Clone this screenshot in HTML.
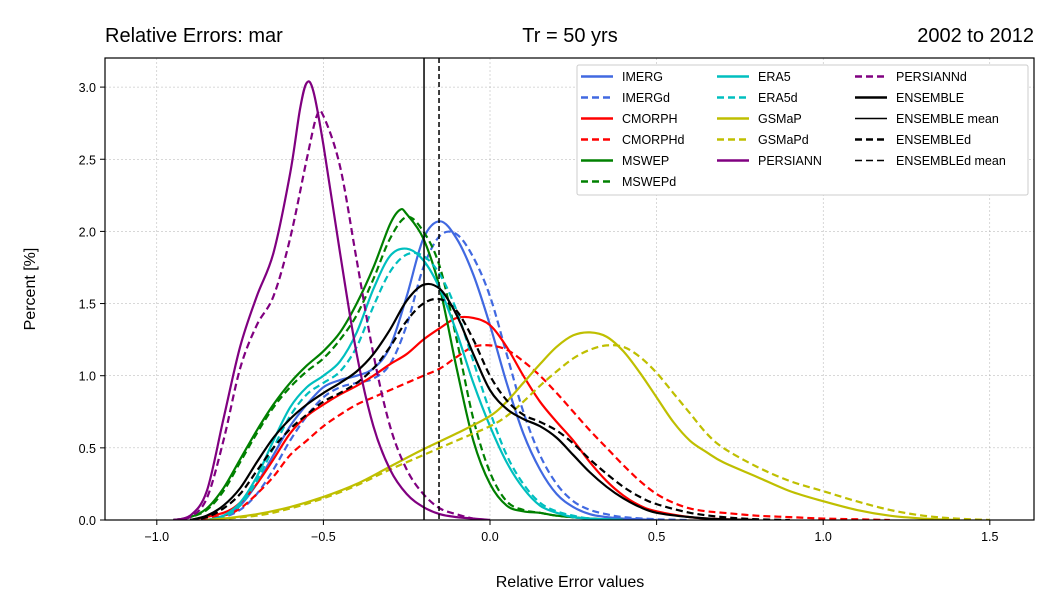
<!DOCTYPE html>
<html><head><meta charset="utf-8"><style>
body{margin:0;background:#fff;}
svg{display:block;font-family:"Liberation Sans","DejaVu Sans",sans-serif;}
</style></head><body>
<svg id="chart" width="1054" height="613"></svg>
<script>
const NS="http://www.w3.org/2000/svg";
const xTicks=[-1.0,-0.5,0.0,0.5,1.0,1.5];
const xTickLabels=["−1.0","−0.5","0.0","0.5","1.0","1.5"];
const yTicks=[0,0.5,1.0,1.5,2.0,2.5,3.0];
const yTickLabels=["0.0","0.5","1.0","1.5","2.0","2.5","3.0"];
const seriesNames=["IMERG","IMERGd","CMORPH","CMORPHd","MSWEP","MSWEPd","ERA5","ERA5d","GSMaP","GSMaPd","PERSIANN","PERSIANNd","ENSEMBLE","ENSEMBLEd"];
const seriesColors=["#4169e1","#4169e1","#ff0000","#ff0000","#008000","#008000","#00bfbf","#00bfbf","#bfbf00","#bfbf00","#800080","#800080","#000000","#000000"];
const seriesDashed=[false,true,false,true,false,true,false,true,false,true,false,true,false,true];
const imergX=[-0.85,-0.8,-0.75,-0.7,-0.65,-0.6,-0.55,-0.5,-0.45,-0.4,-0.35,-0.3,-0.25,-0.2,-0.15,-0.1,-0.05,0,0.05,0.1,0.15,0.2,0.25,0.3,0.35,0.4,0.5];
const imergY=[0,0.03,0.1,0.25,0.45,0.65,0.8,0.92,0.97,1.0,1.05,1.2,1.55,1.95,2.07,1.95,1.7,1.35,0.95,0.6,0.35,0.18,0.09,0.04,0.02,0.01,0];
const imergdX=[-0.85,-0.8,-0.75,-0.7,-0.65,-0.6,-0.55,-0.5,-0.45,-0.4,-0.35,-0.3,-0.25,-0.2,-0.15,-0.1,-0.05,0,0.05,0.1,0.15,0.2,0.25,0.3,0.35,0.4,0.5,0.6];
const imergdY=[0,0.02,0.07,0.18,0.35,0.55,0.72,0.85,0.92,0.95,0.98,1.08,1.35,1.75,1.97,1.98,1.82,1.55,1.15,0.75,0.45,0.25,0.13,0.07,0.04,0.02,0.005,0];
const cmorphX=[-0.9,-0.8,-0.75,-0.7,-0.65,-0.6,-0.55,-0.5,-0.45,-0.4,-0.35,-0.3,-0.25,-0.2,-0.15,-0.1,-0.05,0,0.05,0.1,0.15,0.2,0.25,0.3,0.35,0.4,0.45,0.5,0.6,0.7,0.8];
const cmorphY=[0,0.05,0.12,0.25,0.42,0.6,0.72,0.8,0.87,0.93,1.0,1.08,1.15,1.25,1.33,1.4,1.4,1.35,1.2,1.0,0.82,0.68,0.55,0.4,0.27,0.17,0.1,0.06,0.02,0.005,0];
const cmorphdX=[-0.9,-0.8,-0.75,-0.7,-0.65,-0.6,-0.55,-0.5,-0.45,-0.4,-0.35,-0.3,-0.25,-0.2,-0.15,-0.1,-0.05,0,0.05,0.1,0.15,0.2,0.25,0.3,0.35,0.4,0.45,0.5,0.55,0.6,0.65,0.7,0.8,0.9,1.0,1.1,1.2];
const cmorphdY=[0,0.03,0.08,0.18,0.3,0.45,0.55,0.65,0.73,0.8,0.85,0.9,0.95,1.0,1.05,1.13,1.2,1.21,1.18,1.1,1.0,0.88,0.75,0.62,0.5,0.38,0.27,0.18,0.12,0.08,0.06,0.05,0.03,0.02,0.01,0.005,0];
const mswepX=[-0.95,-0.9,-0.85,-0.8,-0.75,-0.7,-0.65,-0.6,-0.55,-0.5,-0.45,-0.4,-0.35,-0.3,-0.27,-0.25,-0.2,-0.15,-0.1,-0.05,0,0.05,0.1,0.15,0.2,0.3,0.4];
const mswepY=[0,0.02,0.08,0.22,0.42,0.62,0.8,0.95,1.07,1.17,1.3,1.5,1.75,2.05,2.15,2.12,1.95,1.6,1.05,0.55,0.25,0.1,0.06,0.05,0.03,0.01,0];
const mswepdX=[-0.95,-0.9,-0.85,-0.8,-0.75,-0.7,-0.65,-0.6,-0.55,-0.5,-0.45,-0.4,-0.35,-0.3,-0.25,-0.2,-0.15,-0.1,-0.05,0,0.05,0.1,0.15,0.2,0.3,0.4];
const mswepdY=[0,0.02,0.07,0.2,0.4,0.6,0.78,0.92,1.03,1.12,1.25,1.42,1.67,1.95,2.1,2.0,1.75,1.25,0.7,0.33,0.13,0.07,0.05,0.03,0.01,0];
const era5X=[-0.85,-0.8,-0.75,-0.7,-0.65,-0.6,-0.55,-0.5,-0.45,-0.4,-0.35,-0.3,-0.25,-0.2,-0.15,-0.1,-0.05,0,0.05,0.1,0.15,0.2,0.25,0.3,0.4];
const era5Y=[0,0.03,0.12,0.3,0.55,0.78,0.92,1.0,1.1,1.3,1.6,1.83,1.88,1.8,1.6,1.3,0.95,0.65,0.4,0.22,0.1,0.05,0.02,0.01,0];
const era5dX=[-0.85,-0.8,-0.75,-0.7,-0.65,-0.6,-0.55,-0.5,-0.45,-0.4,-0.35,-0.3,-0.25,-0.2,-0.15,-0.1,-0.05,0,0.05,0.1,0.15,0.2,0.25,0.3,0.4];
const era5dY=[0,0.02,0.1,0.27,0.5,0.72,0.87,0.95,1.03,1.2,1.48,1.72,1.84,1.83,1.7,1.45,1.1,0.75,0.45,0.25,0.12,0.06,0.03,0.01,0];
const gsmapX=[-0.85,-0.8,-0.7,-0.6,-0.5,-0.4,-0.3,-0.2,-0.1,0,0.05,0.1,0.15,0.2,0.25,0.3,0.35,0.4,0.45,0.5,0.55,0.6,0.65,0.7,0.8,0.9,1.0,1.1,1.2,1.3,1.4];
const gsmapY=[0,0.01,0.04,0.09,0.16,0.25,0.37,0.49,0.6,0.72,0.82,0.95,1.08,1.2,1.28,1.3,1.27,1.17,1.02,0.85,0.68,0.55,0.47,0.4,0.3,0.2,0.13,0.07,0.03,0.01,0];
const gsmapdX=[-0.85,-0.7,-0.6,-0.5,-0.4,-0.3,-0.2,-0.1,0,0.05,0.1,0.15,0.2,0.25,0.3,0.35,0.4,0.45,0.5,0.55,0.6,0.65,0.7,0.8,0.9,1.0,1.1,1.2,1.3,1.4,1.5];
const gsmapdY=[0,0.03,0.08,0.15,0.24,0.35,0.45,0.55,0.65,0.72,0.82,0.93,1.03,1.12,1.18,1.21,1.2,1.13,1.02,0.88,0.74,0.6,0.5,0.37,0.27,0.2,0.13,0.07,0.03,0.01,0];
const persX=[-0.95,-0.9,-0.85,-0.8,-0.75,-0.7,-0.65,-0.6,-0.57,-0.55,-0.53,-0.5,-0.45,-0.4,-0.35,-0.3,-0.25,-0.2,-0.15,-0.1,-0.05,0];
const persY=[0,0.03,0.2,0.7,1.2,1.55,1.85,2.4,2.85,3.03,2.97,2.6,1.85,1.15,0.65,0.35,0.18,0.09,0.04,0.02,0.01,0];
const persdX=[-0.95,-0.9,-0.85,-0.8,-0.75,-0.7,-0.65,-0.6,-0.55,-0.52,-0.5,-0.45,-0.4,-0.35,-0.3,-0.25,-0.2,-0.15,-0.1,-0.05,0];
const persdY=[0,0.02,0.15,0.55,1.05,1.35,1.55,1.95,2.5,2.8,2.8,2.45,1.8,1.15,0.65,0.35,0.18,0.08,0.04,0.01,0];
const ensX=[-0.9,-0.85,-0.8,-0.75,-0.7,-0.65,-0.6,-0.55,-0.5,-0.45,-0.4,-0.35,-0.3,-0.25,-0.2,-0.15,-0.1,-0.05,0,0.05,0.1,0.15,0.2,0.25,0.3,0.35,0.4,0.45,0.5,0.6,0.7,0.8];
const ensY=[0,0.03,0.1,0.22,0.4,0.57,0.7,0.8,0.88,0.95,1.03,1.15,1.32,1.52,1.63,1.6,1.42,1.15,0.9,0.77,0.7,0.65,0.57,0.45,0.33,0.23,0.15,0.09,0.05,0.02,0.005,0];
const ensdX=[-0.9,-0.85,-0.8,-0.75,-0.7,-0.65,-0.6,-0.55,-0.5,-0.45,-0.4,-0.35,-0.3,-0.25,-0.2,-0.15,-0.1,-0.05,0,0.05,0.1,0.15,0.2,0.25,0.3,0.35,0.4,0.45,0.5,0.6,0.7,0.8,0.9];
const ensdY=[0,0.02,0.08,0.18,0.34,0.5,0.63,0.73,0.82,0.88,0.95,1.05,1.2,1.38,1.5,1.53,1.45,1.25,1.0,0.83,0.73,0.68,0.62,0.53,0.42,0.32,0.23,0.16,0.11,0.05,0.02,0.005,0];
const meanValues=[-0.198,-0.153];

const seriesX=[imergX,imergdX,cmorphX,cmorphdX,mswepX,mswepdX,era5X,era5dX,gsmapX,gsmapdX,persX,persdX,ensX,ensdX];
const seriesY=[imergY,imergdY,cmorphY,cmorphdY,mswepY,mswepdY,era5Y,era5dY,gsmapY,gsmapdY,persY,persdY,ensY,ensdY];

const L=105,R=1034,T=58,B=520;
const X0=490,XS=333.2,YS=144.3;
const sx=v=>X0+v*XS, sy=v=>B-v*YS;
const svg=document.getElementById('chart');
function el(tag,attrs,parent){const e=document.createElementNS(NS,tag);for(const k in attrs)e.setAttribute(k,attrs[k]);(parent||svg).appendChild(e);return e;}
function txt(s,attrs){const e=el('text',attrs);e.textContent=s;return e;}

const grid=el('g',{});


xTicks.forEach(v=>el('line',{x1:sx(v),x2:sx(v),y1:T,y2:B,stroke:'#b0b0b0','stroke-width':0.5,'stroke-dasharray':'2,2'},grid));
yTicks.forEach(v=>el('line',{x1:L,x2:R,y1:sy(v),y2:sy(v),stroke:'#b0b0b0','stroke-width':0.5,'stroke-dasharray':'2,2'},grid));

function pathD(xs,ys){
  const p=xs.map((x,i)=>[sx(x),sy(ys[i])]);
  let d=`M${p[0][0]},${p[0][1]}`;
  for(let i=0;i<p.length-1;i++){
    const p0=p[Math.max(0,i-1)],p1=p[i],p2=p[i+1],p3=p[Math.min(p.length-1,i+2)];
    let c1y=p1[1]+(p2[1]-p0[1])/6, c2y=p2[1]-(p3[1]-p1[1])/6;
    c1y=Math.min(c1y,B); c2y=Math.min(c2y,B);
    d+=` C${p1[0]+(p2[0]-p0[0])/6},${c1y} ${p2[0]-(p3[0]-p1[0])/6},${c2y} ${p2[0]},${p2[1]}`;
  }
  return d;
}
const defs=el('defs',{});
const cp=el('clipPath',{id:'clip'},defs);
el('rect',{x:L,y:T,width:R-L,height:B-T},cp);
const lines=el('g',{'clip-path':'url(#clip)'});
seriesNames.forEach((n,i)=>{
  const p=el('path',{d:pathD(seriesX[i],seriesY[i]),fill:'none',stroke:seriesColors[i],'stroke-width':2.2,'stroke-dasharray':seriesDashed[i]?'7,4':'none'},lines);
  
  
});
meanValues.forEach((m,i)=>{
  const l=el('line',{x1:sx(m),x2:sx(m),y1:T,y2:B,stroke:'#000','stroke-width':1.5,'stroke-dasharray':i?'5,3':'none'});
  
  
});

const frame=el('rect',{x:L,y:T,width:R-L,height:B-T,fill:'none',stroke:'#000','stroke-width':1.2});



xTicks.forEach((v,i)=>{
  el('line',{x1:sx(v),x2:sx(v),y1:B,y2:B+5,stroke:'#000','stroke-width':1});
  const t=txt(xTickLabels[i],{x:sx(v),y:B+21,'font-size':12.5,'text-anchor':'middle'});
  
  
});
yTicks.forEach((v,i)=>{
  el('line',{x1:L-5,x2:L,y1:sy(v),y2:sy(v),stroke:'#000','stroke-width':1});
  const t=txt(yTickLabels[i],{x:L-9,y:sy(v)+5,'font-size':12.5,'text-anchor':'end'});
  
  
});

const xt=txt('Relative Error values',{x:570,y:587,'font-size':16,'text-anchor':'middle'});


const yt=txt('Percent [%]',{x:0,y:0,'font-size':16,'text-anchor':'middle',transform:'translate(35,289) rotate(-90)'});


const t1=txt('Relative Errors: mar',{x:105,y:42,'font-size':20});


const t2=txt('Tr = 50 yrs',{x:570,y:42,'font-size':20,'text-anchor':'middle'});


const t3=txt('2002 to 2012',{x:1034,y:42,'font-size':20,'text-anchor':'end'});



const lg=el('g',{});


el('rect',{x:577,y:65,width:451,height:130,fill:'#fff',stroke:'#ccc','stroke-width':1,rx:2},lg);
const legendLabels=seriesNames.slice(0,12).concat(["ENSEMBLE","ENSEMBLE mean","ENSEMBLEd","ENSEMBLEd mean"]);
const legendColors=seriesColors.slice(0,12).concat(["#000","#000","#000","#000"]);
const legendDash=seriesDashed.slice(0,12).concat([false,false,true,true]);
const legendWidth=[2.5,2.5,2.5,2.5,2.5,2.5,2.5,2.5,2.5,2.5,2.5,2.5,2.5,1.5,2.5,1.5];
const colX=[581,717,855],rowY=[76.5,97.5,118.5,139.5,160.5,181.5];
const colCounts=[6,5,5];
let k=0;
colCounts.forEach((c,ci)=>{for(let r=0;r<c;r++){
  const g=el('g',{},lg);
  
  
  el('line',{x1:colX[ci],x2:colX[ci]+32,y1:rowY[r],y2:rowY[r],stroke:legendColors[k],'stroke-width':legendWidth[k],'stroke-dasharray':legendDash[k]?'7,4':'none'},g);
  const t=el('text',{x:colX[ci]+41,y:rowY[r]+4.5,'font-size':12.5},g);t.textContent=legendLabels[k];
  k++;
}});
</script>
</body></html>
